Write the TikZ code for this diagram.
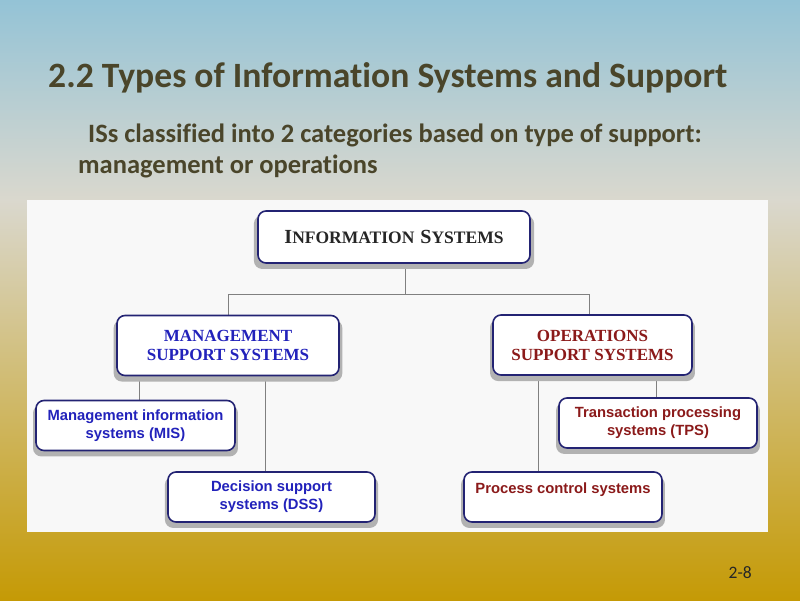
\documentclass[tikz,border=0pt]{standalone}
\usepackage{fontspec}
\setmainfont{Liberation Serif}
\newfontfamily\calibri[Ligatures=NoCommon]{Carlito}
\newfontfamily\arial{Liberation Sans}
\usetikzlibrary{shadows,backgrounds}
\definecolor{skyblue}{RGB}{148,195,214}
\definecolor{mist}{RGB}{218,216,206}
\definecolor{gold}{RGB}{197,154,5}
\definecolor{olive}{RGB}{74,69,42}
\definecolor{navy}{RGB}{35,35,115}
\definecolor{mblue}{RGB}{34,34,187}
\definecolor{ored}{RGB}{139,26,26}
\definecolor{panel}{RGB}{248,248,248}
\newcommand\bigsmall[2]{{\fontsize{20}{24}\selectfont #1}{\fontsize{17.5}{20}\selectfont #2}}
\begin{document}
\begin{tikzpicture}[x=1pt,y=-1pt,line join=round,line cap=round,
	box/.style={draw=navy,line width=1.6pt,rounded corners=8pt,fill=white,inner sep=0pt,align=center,
		drop shadow={shadow xshift=0pt,shadow yshift=-5pt,shadow scale=1.03,fill=black!30,opacity=1}},
	caption/.style={anchor=base west,inner sep=0pt,text=olive},
	serifcap/.style={font=\bfseries\fontsize{17}{19}\selectfont},
	sanstext/.style={font=\arial\bfseries\fontsize{14.8}{18}\selectfont},
	link/.style={draw=black!50,line width=1pt}]
	\useasboundingbox (0,0) rectangle (800,600);
	% headings
	\node[caption,font=\calibri\bfseries\fontsize{35.6}{40}\selectfont] (title) at (48,87) {2.2 Types of Information Systems and Support};
	\node[caption,font=\calibri\bfseries\fontsize{26.5}{30}\selectfont] (subA) at (88,142) {ISs classified into 2 categories based on type of support:};
	\node[caption,font=\calibri\bfseries\fontsize{26.5}{30}\selectfont] (subB) at (78,173) {management or operations};
	\node[anchor=base east,inner sep=0pt,text=black!85,font=\calibri\fontsize{17.5}{20}\selectfont] (page) at (752,578) {2-8};
	% boxes
	\node[box,minimum width=272pt,minimum height=52pt,text=black!85,font=\bfseries] (is) at (394,237) {\bigsmall{I}{NFORMATION}\hspace{6pt}\bigsmall{S}{YSTEMS}};
	\node[box,serifcap,minimum width=222pt,minimum height=60pt,text=mblue] (mss) at (228,345.5) {MANAGEMENT\\SUPPORT SYSTEMS};
	\node[box,serifcap,minimum width=199pt,minimum height=60pt,text=ored] (oss) at (592.5,345) {OPERATIONS\\SUPPORT SYSTEMS};
	\foreach \n/\x/\y/\w/\c/\t in {mis/135.5/425.5/199/mblue/{Management information\\systems (MIS)},
		dss/271.5/497/207/mblue/{Decision support\\systems (DSS)},
		tps/658/423/198/ored/{Transaction processing\\systems (TPS)},
		pcs/563/497/198/ored/{Process control systems\\\phantom{x}}}{
		\node[box,sanstext,minimum width=\w pt,minimum height=50pt,text=\c] (\n) at (\x,\y) {\t};
	};
	\path ([xshift=11pt]is.south) ++(0,31) coordinate (fork)
		([xshift=3.5pt]mis.north) coordinate (misTop)
		([xshift=-6.5pt]dss.north) coordinate (dssTop)
		([xshift=-2pt]tps.north) coordinate (tpsTop)
		([xshift=-25pt]pcs.north) coordinate (pcsTop);
	\begin{scope}[on background layer]
		\shade[top color=skyblue,bottom color=mist] (0,0) rectangle (800,200);
		\shade[top color=mist,bottom color=gold] (0,199.5) rectangle (800,600);
		\fill[panel] (27,200) rectangle (768,532);
		\draw[link] ([xshift=11pt]is.south) -- (fork);
		\draw[link] (mss.north) |- (fork) -| ([xshift=-3.5pt]oss.north);
		\draw[link] (misTop) -- (misTop |- mss.south);
		\draw[link] (dssTop) -- (dssTop |- mss.south);
		\draw[link] (tpsTop) -- (tpsTop |- oss.south);
		\draw[link] (pcsTop) -- (pcsTop |- oss.south);
	\end{scope}
\end{tikzpicture}
\end{document}
